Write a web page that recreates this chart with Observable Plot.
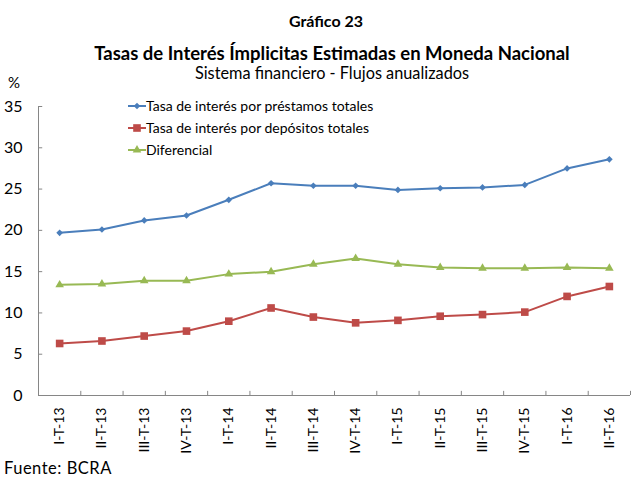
<!DOCTYPE html>
<html><head><meta charset="utf-8">
<script src="https://cdn.jsdelivr.net/npm/d3@7"></script>
<script src="https://cdn.jsdelivr.net/npm/@observablehq/plot@0.6"></script>
<style>
body{margin:0;background:#fff;font-family:Lato,"Open Sans",sans-serif;}
#wrap{position:relative;width:631px;height:478px;overflow:hidden;background:#fff}
#wrap svg.plot{position:absolute;left:0;top:0}
.t{position:absolute;white-space:nowrap;color:#000;line-height:1}
.c{transform:translateX(-50%)}
.leg{position:absolute;left:128px;font-size:14px;line-height:1;display:flex;align-items:center;white-space:nowrap}
.leg svg{margin-right:0px}
</style></head><body><div id="wrap"></div>
<script>
const periods = ["I-T-13","II-T-13","III-T-13","IV-T-13","I-T-14","II-T-14","III-T-14","IV-T-14","I-T-15","II-T-15","III-T-15","IV-T-15","I-T-16","II-T-16"];
const prestamos = [19.7,20.1,21.2,21.8,23.7,25.7,25.4,25.4,24.9,25.1,25.2,25.5,27.5,28.6];
const depositos = [6.3,6.6,7.2,7.8,9.0,10.6,9.5,8.8,9.1,9.6,9.8,10.1,12.0,13.2];
const diferencial = [13.4,13.5,13.9,13.9,14.7,15.0,15.9,16.6,15.9,15.5,15.4,15.4,15.5,15.4];
const yTicks = [0,5,10,15,20,25,30,35];
const seriesNames = ["Tasa de interés por préstamos totales","Tasa de interés por depósitos totales","Diferencial"];
const seriesColors = ["#4a7ebb","#be4b48","#98b954"];
const seriesSymbols = ["diamond2","square","triangle"];
const seriesR = [3.0,4.3,3.2];

const seriesValues = [prestamos, depositos, diferencial];
const axisColor = "#868686";

const marks = [
  Plot.ruleX([-0.5], {y1: 0, y2: 35, stroke: axisColor, strokeWidth: 1}),
  Plot.ruleY([0], {x1: -0.5, x2: 13.5, stroke: axisColor, strokeWidth: 1}),
  Plot.ruleX(d3.range(0.5, 14, 1), {y1: 0, y2: 0.5, stroke: axisColor}),
  Plot.ruleY(yTicks, {x1: -0.5, x2: -0.4, stroke: axisColor}),
  Plot.axisY(yTicks, {tickSize: 0, tickPadding: 16, fontSize: 16, fill: "#000", label: null}),
  Plot.axisX(d3.range(periods.length), {tickFormat: i => periods[i], tickRotate: -90, tickSize: 0, tickPadding: 12, fontSize: 14, fill: "#000", label: null})
];
seriesValues.forEach((vals, k) => {
  const rows = vals.map((v, i) => ({i, v}));
  marks.push(Plot.line(rows, {x: "i", y: "v", stroke: seriesColors[k], strokeWidth: 2}));
  marks.push(Plot.dot(rows, {x: "i", y: "v", fill: seriesColors[k], stroke: "none", symbol: seriesSymbols[k], r: seriesR[k]}));
});

const chart = Plot.plot({
  width: 631, height: 478,
  marginLeft: 38, marginRight: 1, marginTop: 106, marginBottom: 83,
  x: {type: "linear", domain: [-0.5, 13.5], axis: null},
  y: {domain: [0, 35], axis: null},
  style: {fontFamily: "Lato, 'Open Sans', sans-serif", background: "transparent", color: "#000"},
  marks
});
chart.classList.add("plot");
const wrap = document.getElementById("wrap");
wrap.appendChild(chart);

function addText(txt, css, cls) {
  const d = document.createElement("div");
  d.className = "t " + (cls || "");
  d.textContent = txt;
  Object.assign(d.style, css);
  wrap.appendChild(d);
}
addText("Gráfico 23", {left: "326px", top: "13px", fontSize: "16px", fontWeight: "bold"}, "c");
addText("Tasas de Interés Ímplicitas Estimadas en Moneda Nacional", {left: "332px", top: "44px", fontSize: "18.5px", fontWeight: "bold"}, "c");
addText("Sistema financiero - Flujos anualizados", {left: "332px", top: "65px", fontSize: "16.3px"}, "c");
addText("%", {left: "8px", top: "75px", fontSize: "15px"});
addText("Fuente: BCRA", {left: "4px", top: "460px", fontSize: "16.5px", letterSpacing: "0.5px"});

const legY = [106, 128, 150];
const symTypes = {diamond2: d3.symbolDiamond2 || d3.symbolDiamond, square: d3.symbolSquare, triangle: d3.symbolTriangle};
seriesNames.forEach((name, k) => {
  const d = document.createElement("div");
  d.className = "leg";
  d.style.top = (legY[k] - 9) + "px";
  const sym = d3.symbol(symTypes[seriesSymbols[k]], Math.PI * seriesR[k] * seriesR[k])();
  d.innerHTML = `<svg width="18" height="18"><line x1="0" x2="18" y1="9" y2="9" stroke="${seriesColors[k]}" stroke-width="2"/><path d="${sym}" transform="translate(9,9)" fill="${seriesColors[k]}"/></svg><span>${name}</span>`;
  wrap.appendChild(d);
});
</script></body></html>
